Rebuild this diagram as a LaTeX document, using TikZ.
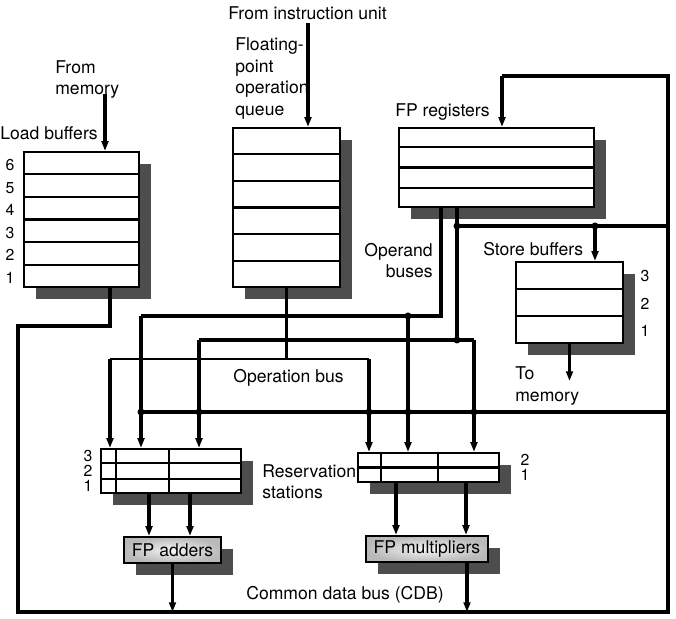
\documentclass[tikz,border=0pt]{standalone}
\usepackage{fontspec}
\setmainfont{TeX Gyre Heros}
\usetikzlibrary{calc}
\usetikzlibrary{arrows.meta}
\usetikzlibrary{shadows}

\definecolor{shadowgray}{HTML}{4D4D4D}
\tikzset{
  buf/.style={draw, line width=1.25pt, fill=white, inner sep=0pt,
    drop shadow={shadow xshift=2.4mm, shadow yshift=-2.4mm, fill=shadowgray, opacity=1}},
  fpunit/.style={buf, inner color=gray!8, outer color=gray!55, minimum height=5.2mm},
  rowline/.style={line width=1.2pt},
  bus/.style={line width=1.9pt},
  wire/.style={line width=1.3pt},
  arr/.style={-{Triangle[length=5.5pt,width=3.8pt]}},
  lbl/.style={inner sep=0pt},
  rownum/.style={inner sep=0pt, font=\fontsize{9}{10}\selectfont}
}

\begin{document}
\begin{tikzpicture}[x=0.2mm, y=-0.2mm, font=\fontsize{10}{12.2}\selectfont]
    \useasboundingbox (0,0) rectangle (676,619);

    % buffers, queue and register file
    \node[buf, minimum width=23mm, minimum height=27mm] (load) at (81.5,219.5) {};
    \node[buf, minimum width=21.4mm, minimum height=31.8mm] (queue) at (286.5,207.5) {};
    \node[buf, minimum width=39mm, minimum height=15.8mm] (fpreg) at (496.5,167.5) {};
    \node[buf, minimum width=21.4mm, minimum height=16.2mm] (store) at (569.5,302.5) {};
    \node[buf, minimum width=28mm, minimum height=8.8mm] (addrs) at (171,471) {};
    \node[buf, minimum width=28.2mm, minimum height=5.8mm] (mulrs) at (428.5,467.5) {};
    \node[fpunit, minimum width=19.4mm] (adders) at (172.5,550) {FP adders};
    \node[fpunit, minimum width=24.4mm] (mults) at (427,549) {FP multipliers};

    \foreach \i in {1,...,5} {
        \draw[rowline] ($(load.north west)!\i/6!(load.south west)$) -- ($(load.north east)!\i/6!(load.south east)$);
        \draw[rowline] ($(queue.north west)!\i/6!(queue.south west)$) -- ($(queue.north east)!\i/6!(queue.south east)$);
    }
    \foreach \i in {1,2,3}
        \draw[rowline] ($(fpreg.north west)!\i/4!(fpreg.south west)$) -- ($(fpreg.north east)!\i/4!(fpreg.south east)$);
    \foreach \i in {1,2} {
        \draw[rowline] ($(store.north west)!\i/3!(store.south west)$) -- ($(store.north east)!\i/3!(store.south east)$);
        \draw[rowline] ($(addrs.north west)!\i/3!(addrs.south west)$) -- ($(addrs.north east)!\i/3!(addrs.south east)$);
    }
    \draw[rowline] (mulrs.west) -- (mulrs.east);
    \draw[rowline] ($(addrs.north west)+(16,0)$) -- ($(addrs.south west)+(16,0)$);
    \draw[rowline] ($(addrs.north west)+(69,0)$) -- ($(addrs.south west)+(69,0)$);
    \draw[rowline] ($(mulrs.north west)+(24,0)$) -- ($(mulrs.south west)+(24,0)$);
    \draw[rowline] ($(mulrs.north west)+(81,0)$) -- ($(mulrs.south west)+(81,0)$);

    % row numbers
    \foreach \i [count=\n] in {6,5,...,1}
        \node[rownum] (ld\i) at (10, {152+(\n-0.5)*22.5+2}) {\i};
    \foreach \i [count=\n] in {3,2,1}
        \node[rownum] (sb\i) at (645, {262+(\n-0.5)*27+1}) {\i};
    \foreach \i [count=\n] in {3,2,1}
        \node[rownum] (ar\i) at (88, {449+(\n-0.5)*14.67}) {\i};
    \foreach \i [count=\n] in {2,1}
        \node[rownum] (mr\i) at (525, {453+(\n-0.5)*14.5}) {\i};

    % labels
    \node[lbl, anchor=base west] (instlbl) at (228,20) {From instruction unit};
    \node[lbl, anchor=west, align=left] (memlbl) at (55,79.5) {From\\memory};
    \node[lbl, anchor=base west] (loadlbl) at (0,140) {Load buffers};
    \node[lbl, anchor=west, align=left] (queuelbl) at (235,78.5) {Floating-\\point\\operation\\queue};
    \node[lbl, anchor=base west] (reglbl) at (395,117) {FP registers};
    \node[lbl, anchor=east, align=right] (operlbl) at (433,260.5) {Operand\\buses};
    \node[lbl, anchor=base west] (storelbl) at (483,256) {Store buffers};
    \node[lbl, anchor=west, align=left] (tomemlbl) at (515,386) {To\\memory};
    \node[lbl, anchor=base west] (opbuslbl) at (233,383) {Operation bus};
    \node[lbl, anchor=west, align=left] (rslbl) at (262,481.5) {Reservation\\stations};
    \node[lbl, anchor=base west] (cdblbl) at (246,600) {Common data bus (CDB)};

    % junction points
    \coordinate (memsrc) at (105,94);
    \coordinate (instsrc) at (308,23);
    \coordinate (ldturn) at (110,326);
    \coordinate (cdbL) at (18,612);
    \coordinate (cdbR) at (668,612);
    \coordinate (cdbT) at (668,76);
    \coordinate (regin) at (502,76);
    \coordinate (cdbrs) at (141,412);
    \coordinate (stj) at (457,226);
    \coordinate (stin) at (595,226);
    \coordinate (opa) at (441,316);
    \coordinate (opaL) at (141,316);
    \coordinate (opaM) at (408,316);
    \coordinate (opb) at (457,340);
    \coordinate (opbL) at (199,340);
    \coordinate (opbR) at (474,340);
    \coordinate (opqL) at (110,359);
    \coordinate (opqR) at (369,359);
    \coordinate (ax1) at (149,0);
    \coordinate (ax2) at (190,0);
    \coordinate (mx1) at (396,0);
    \coordinate (mx2) at (466,0);
    \coordinate (mout) at (467,0);
    \coordinate (tomem) at (569.5,381);

    % inputs
    \draw[bus, arr] (memsrc) -- (memsrc |- load.north);
    \draw[bus, arr] (instsrc) -- (instsrc |- queue.north);

    % common data bus
    \draw[bus] (ldturn |- load.south) -- (ldturn) -- (ldturn -| cdbL) -- (cdbL) -- (cdbR) -- (cdbT) -- (regin);
    \draw[bus, arr] (regin) -- (regin |- fpreg.north);
    \draw[bus] (cdbR |- cdbrs) -- (cdbrs);
    \draw[bus] (cdbR |- stj) -- (stj);
    \draw[bus, arr] (stin) -- (stin |- store.north);

    % operand buses
    \draw[bus] (opa |- fpreg.south) -- (opa) -- (opaL);
    \draw[bus, arr] (opaL) -- (opaL |- addrs.north);
    \draw[bus, arr] (opaM) -- (opaM |- mulrs.north);
    \draw[bus] (opb |- fpreg.south) -- (opb);
    \draw[bus] (opbL) -- (opbR);
    \draw[bus, arr] (opbL) -- (opbL |- addrs.north);
    \draw[bus, arr] (opbR) -- (opbR |- mulrs.north);

    % operation bus
    \draw[wire] (queue.south) -- (queue.south |- opqL);
    \draw[wire] (opqL) -- (opqR);
    \draw[bus, arr] (opqL) -- (opqL |- addrs.north);
    \draw[bus, arr] (opqR) -- (opqR |- mulrs.north);

    % to the units and back onto the bus
    \draw[bus, arr] (ax1 |- addrs.south) -- (ax1 |- adders.north);
    \draw[bus, arr] (ax2 |- addrs.south) -- (ax2 |- adders.north);
    \draw[bus, arr] (mx1 |- mulrs.south) -- (mx1 |- mults.north);
    \draw[bus, arr] (mx2 |- mulrs.south) -- (mx2 |- mults.north);
    \draw[bus, arr] (adders.south) -- (adders.south |- cdbL);
    \draw[bus, arr] (mout |- mults.south) -- (mout |- cdbL);
    \draw[bus, arr] (store.south) -- (tomem);

    % junction dots
    \foreach \p in {cdbrs, stj, stin, opaM, opb}
        \fill (\p) circle[radius=0.7mm];
    \foreach \p in {opbL, opqR, opaM, opbR}
        \fill (\p |- cdbrs) circle[radius=0.7mm];
\end{tikzpicture}
\end{document}
